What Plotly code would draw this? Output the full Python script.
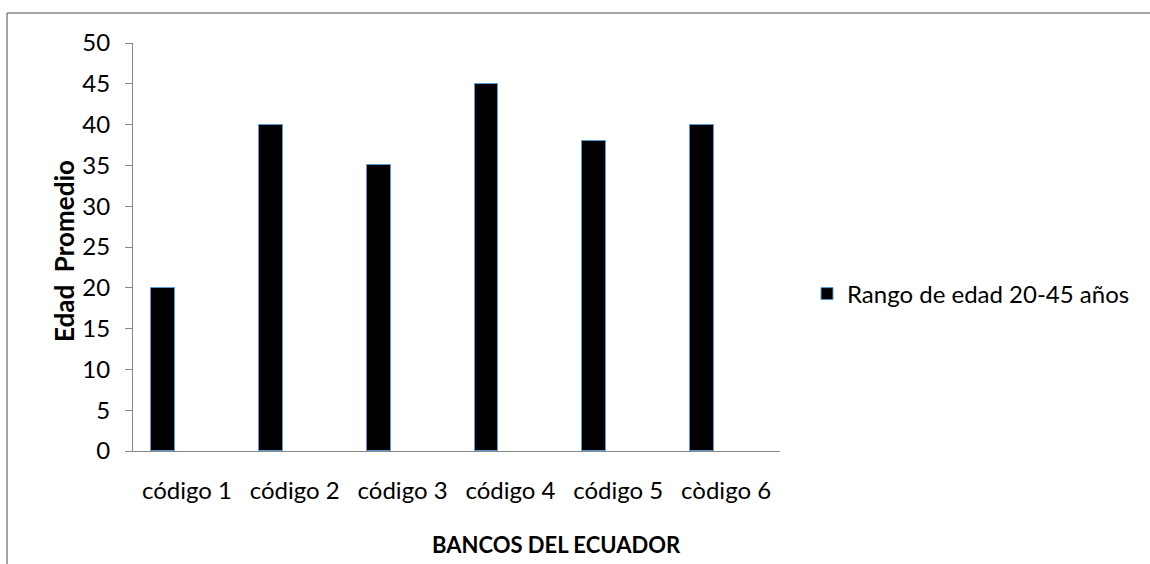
import plotly.graph_objects as go

# Datos: edad promedio por banco
categorias = ["código 1", "código 2", "código 3", "código 4", "código 5", "còdigo 6"]
edad_promedio = [20, 40, 35, 45, 38, 40]
serie_nombre = "Rango de edad 20-45 años"
y_ticks = [0, 5, 10, 15, 20, 25, 30, 35, 40, 45, 50]

W, H = 1150, 564
L, R, T, B = 133, 370, 43, 113
pw, ph = W - L - R, H - T - B

FONT = "Lato, 'Open Sans', sans-serif"
GRIS = "#868686"

def px_x(x):
    return (x - L) / pw

def px_y(y):
    return (H - B - y) / ph

fig = go.Figure()
fig.add_trace(go.Bar(
    x=categorias,
    y=edad_promedio,
    name=serie_nombre,
    width=0.222,
    offset=-0.333,
    marker=dict(color="#000000", line=dict(color="#5B9BD5", width=1)),
    showlegend=True,
))

fig.update_layout(
    width=W, height=H,
    margin=dict(l=L, r=R, t=T, b=B, pad=0),
    paper_bgcolor="white", plot_bgcolor="white",
    font=dict(family=FONT, size=24, color="#000000"),
    showlegend=True,
    legend=dict(
        x=px_x(807), y=px_y(294), xanchor="left", yanchor="middle",
        font=dict(family=FONT, size=24, color="#000000"),
        bgcolor="rgba(0,0,0,0)", borderwidth=0,
    ),
    xaxis=dict(
        range=[-0.5, 5.5], showline=True, linecolor=GRIS, linewidth=1,
        ticks="", showgrid=False, zeroline=False,
        tickfont=dict(family=FONT, size=24, color="#000000"),
        ticklabelstandoff=18,
    ),
    yaxis=dict(
        range=[0, 50], tickvals=y_ticks, showline=True, linecolor=GRIS, linewidth=1,
        ticks="outside", ticklen=7, tickcolor=GRIS, tickwidth=1,
        showgrid=False, zeroline=False,
        tickfont=dict(family=FONT, size=24, color="#000000"),
        ticklabelstandoff=10,
    ),
    bargap=0,
    shapes=[
        # borde del área del gráfico
        dict(type="line", xref="paper", yref="paper",
             x0=px_x(7), x1=px_x(W + 5), y0=px_y(13), y1=px_y(13),
             line=dict(color=GRIS, width=1.5)),
        dict(type="line", xref="paper", yref="paper",
             x0=px_x(7), x1=px_x(7), y0=px_y(13), y1=px_y(H + 5),
             line=dict(color=GRIS, width=1.5)),
    ],
    annotations=[
        dict(text="<b>BANCOS DEL ECUADOR</b>", xref="paper", yref="paper",
             x=px_x(556), y=px_y(544), xanchor="center", yanchor="middle",
             showarrow=False, font=dict(family=FONT, size=22, color="#000000")),
        dict(text="<b>Edad  Promedio</b>", xref="paper", yref="paper",
             x=px_x(64), y=px_y(251), xanchor="center", yanchor="middle",
             textangle=-90, showarrow=False,
             font=dict(family=FONT, size=26, color="#000000")),
    ],
)

fig.write_html("out.html")
